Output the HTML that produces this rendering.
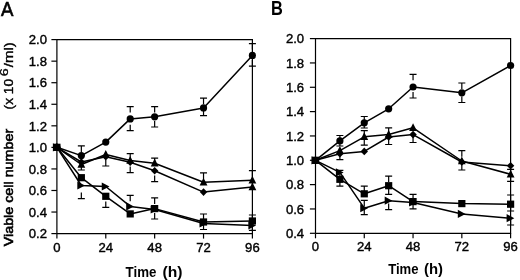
<!DOCTYPE html>
<html><head><meta charset="utf-8"><style>
html,body{margin:0;padding:0;background:#fff;width:520px;height:280px;overflow:hidden}
svg{display:block;will-change:transform}
</style></head><body>
<svg width="520" height="280" viewBox="0 0 520 280">
<path d="M56.9 233.6V39.6H252.4V233.6H56.9" fill="none" stroke="#000" stroke-width="1.2"/>
<path d="M51.4 233.60H56.9" stroke="#000" stroke-width="1.2"/>
<path d="M51.4 212.04H56.9" stroke="#000" stroke-width="1.2"/>
<path d="M51.4 190.49H56.9" stroke="#000" stroke-width="1.2"/>
<path d="M51.4 168.93H56.9" stroke="#000" stroke-width="1.2"/>
<path d="M51.4 147.38H56.9" stroke="#000" stroke-width="1.2"/>
<path d="M51.4 125.82H56.9" stroke="#000" stroke-width="1.2"/>
<path d="M51.4 104.27H56.9" stroke="#000" stroke-width="1.2"/>
<path d="M51.4 82.71H56.9" stroke="#000" stroke-width="1.2"/>
<path d="M51.4 61.16H56.9" stroke="#000" stroke-width="1.2"/>
<path d="M51.4 39.60H56.9" stroke="#000" stroke-width="1.2"/>
<path d="M56.90 233.6V238.6" stroke="#000" stroke-width="1.2"/>
<path d="M105.78 233.6V238.6" stroke="#000" stroke-width="1.2"/>
<path d="M154.65 233.6V238.6" stroke="#000" stroke-width="1.2"/>
<path d="M203.53 233.6V238.6" stroke="#000" stroke-width="1.2"/>
<path d="M252.40 233.6V238.6" stroke="#000" stroke-width="1.2"/>
<path d="M315.5 233.3V38.6H510.6V233.3H315.5" fill="none" stroke="#000" stroke-width="1.2"/>
<path d="M309.9 233.30H315.5" stroke="#000" stroke-width="1.2"/>
<path d="M309.9 208.96H315.5" stroke="#000" stroke-width="1.2"/>
<path d="M309.9 184.62H315.5" stroke="#000" stroke-width="1.2"/>
<path d="M309.9 160.29H315.5" stroke="#000" stroke-width="1.2"/>
<path d="M309.9 135.95H315.5" stroke="#000" stroke-width="1.2"/>
<path d="M309.9 111.61H315.5" stroke="#000" stroke-width="1.2"/>
<path d="M309.9 87.28H315.5" stroke="#000" stroke-width="1.2"/>
<path d="M309.9 62.94H315.5" stroke="#000" stroke-width="1.2"/>
<path d="M309.9 38.60H315.5" stroke="#000" stroke-width="1.2"/>
<path d="M315.50 233.3V238.3" stroke="#000" stroke-width="1.2"/>
<path d="M364.27 233.3V238.3" stroke="#000" stroke-width="1.2"/>
<path d="M413.05 233.3V238.3" stroke="#000" stroke-width="1.2"/>
<path d="M461.83 233.3V238.3" stroke="#000" stroke-width="1.2"/>
<path d="M510.60 233.3V238.3" stroke="#000" stroke-width="1.2"/>
<g font-family="Liberation Sans, sans-serif" fill="#000" stroke="#000" stroke-width="0.4" font-size="13.1" stroke-width="0.6" text-anchor="end">
<text x="47.0" y="238.30">0.2</text>
<text x="47.0" y="216.74">0.4</text>
<text x="47.0" y="195.19">0.6</text>
<text x="47.0" y="173.63">0.8</text>
<text x="47.0" y="152.08">1.0</text>
<text x="47.0" y="130.52">1.2</text>
<text x="47.0" y="108.97">1.4</text>
<text x="47.0" y="87.41">1.6</text>
<text x="47.0" y="65.86">1.8</text>
<text x="47.0" y="44.30">2.0</text>
<text x="304.1" y="238.00">0.4</text>
<text x="304.1" y="213.66">0.6</text>
<text x="304.1" y="189.32">0.8</text>
<text x="304.1" y="164.99">1.0</text>
<text x="304.1" y="140.65">1.2</text>
<text x="304.1" y="116.31">1.4</text>
<text x="304.1" y="91.98">1.6</text>
<text x="304.1" y="67.64">1.8</text>
<text x="304.1" y="43.30">2.0</text>
</g>
<g font-family="Liberation Sans, sans-serif" fill="#000" stroke="#000" stroke-width="0.4" font-size="13.1" stroke-width="0.75" text-anchor="middle">
<text x="56.90" y="252.2">0</text>
<text x="315.50" y="251.2">0</text>
<text x="105.78" y="252.2">24</text>
<text x="364.27" y="251.2">24</text>
<text x="154.65" y="252.2">48</text>
<text x="413.05" y="251.2">48</text>
<text x="203.53" y="252.2">72</text>
<text x="461.83" y="251.2">72</text>
<text x="252.40" y="252.2">96</text>
<text x="510.60" y="251.2">96</text>
</g>
<g font-family="Liberation Sans, sans-serif" fill="#000" stroke="#000" stroke-width="0.4">
<text x="125.6" y="277" font-size="14.2" font-weight="bold" stroke-width="0" textLength="30.8" lengthAdjust="spacingAndGlyphs">Time</text>
<text x="162.6" y="277" font-size="14.2" font-weight="bold" stroke-width="0" textLength="20" lengthAdjust="spacingAndGlyphs">(h)</text>
<text x="388.2" y="273.9" font-size="14.1" font-weight="bold" stroke-width="0" textLength="30.3" lengthAdjust="spacingAndGlyphs">Time</text>
<text x="424.0" y="273.9" font-size="14.1" font-weight="bold" stroke-width="0" textLength="19" lengthAdjust="spacingAndGlyphs">(h)</text>
<text transform="translate(13.0,246.3) rotate(-90)" font-size="12.8" stroke-width="0.6" textLength="117.5" lengthAdjust="spacingAndGlyphs">Viable cell number</text>
<text transform="translate(12.6,109.4) rotate(-90)" font-size="12.8" stroke-width="0.35" textLength="30.4" lengthAdjust="spacingAndGlyphs">(x 10</text>
<text transform="translate(8.3,76.3) rotate(-90)" font-size="11" stroke-width="0.35" textLength="8" lengthAdjust="spacingAndGlyphs">6</text>
<text transform="translate(12.6,67.2) rotate(-90)" font-size="12.8" stroke-width="0.35" textLength="25" lengthAdjust="spacingAndGlyphs">/ml)</text>
</g>
<text transform="translate(1.0,15.5) scale(0.95,1)" font-family="Liberation Sans, sans-serif" font-size="19.6" fill="#000" stroke="#000" stroke-width="0.6">A</text>
<text transform="translate(271.0,15.1) scale(0.84,1)" font-family="Liberation Sans, sans-serif" font-weight="bold" font-size="19.5" fill="#000">B</text>
<polyline points="56.90,147.30 81.34,155.60 105.78,142.10 130.21,118.90 154.65,116.80 203.53,107.90 252.40,55.40" fill="none" stroke="#000" stroke-width="1.5" stroke-linejoin="round"/>
<polyline points="56.90,147.30 81.34,164.50 105.78,154.50 130.21,160.50 154.65,163.20 203.53,182.30 252.40,180.30" fill="none" stroke="#000" stroke-width="1.5" stroke-linejoin="round"/>
<polyline points="56.90,147.30 81.34,162.00 105.78,156.80 130.21,162.30 154.65,170.70 203.53,192.10 252.40,187.00" fill="none" stroke="#000" stroke-width="1.5" stroke-linejoin="round"/>
<polyline points="56.90,147.30 81.34,177.70 105.78,196.30 130.21,213.90 154.65,208.60 203.53,222.00 252.40,221.00" fill="none" stroke="#000" stroke-width="1.5" stroke-linejoin="round"/>
<polyline points="56.90,147.30 81.34,185.50 105.78,186.50 130.21,206.40 154.65,209.50 203.53,223.50 252.40,225.50" fill="none" stroke="#000" stroke-width="1.5" stroke-linejoin="round"/>
<path d="M77.84 145.90H84.84M81.34 145.90V151.90" stroke="#000" stroke-width="1.2" fill="none"/>
<path d="M126.71 106.60H133.71M130.21 106.60V112.60" stroke="#000" stroke-width="1.2" fill="none"/>
<path d="M126.71 130.70H133.71M130.21 130.70V124.70" stroke="#000" stroke-width="1.2" fill="none"/>
<path d="M151.15 106.60H158.15M154.65 106.60V112.60" stroke="#000" stroke-width="1.2" fill="none"/>
<path d="M151.15 127.00H158.15M154.65 127.00V121.00" stroke="#000" stroke-width="1.2" fill="none"/>
<path d="M200.03 98.20H207.03M203.53 98.20V104.20" stroke="#000" stroke-width="1.2" fill="none"/>
<path d="M200.03 115.70H207.03M203.53 115.70V109.70" stroke="#000" stroke-width="1.2" fill="none"/>
<path d="M248.90 43.60H255.90M252.40 43.60V49.60" stroke="#000" stroke-width="1.2" fill="none"/>
<path d="M248.90 66.10H255.90M252.40 66.10V60.10" stroke="#000" stroke-width="1.2" fill="none"/>
<path d="M126.71 153.60H133.71M130.21 153.60V159.60" stroke="#000" stroke-width="1.2" fill="none"/>
<path d="M126.71 172.60H133.71M130.21 172.60V166.60" stroke="#000" stroke-width="1.2" fill="none"/>
<path d="M151.15 158.10H158.15M154.65 158.10V164.10" stroke="#000" stroke-width="1.2" fill="none"/>
<path d="M151.15 181.60H158.15M154.65 181.60V175.60" stroke="#000" stroke-width="1.2" fill="none"/>
<path d="M200.03 172.90H207.03M203.53 172.90V178.90" stroke="#000" stroke-width="1.2" fill="none"/>
<path d="M248.90 170.70H255.90M252.40 170.70V176.70" stroke="#000" stroke-width="1.2" fill="none"/>
<path d="M102.28 166.00H109.28M105.78 166.00V160.00" stroke="#000" stroke-width="1.2" fill="none"/>
<path d="M77.84 170.00H84.84M81.34 170.00V164.00" stroke="#000" stroke-width="1.2" fill="none"/>
<path d="M77.84 198.60H84.84M81.34 198.60V192.60" stroke="#000" stroke-width="1.2" fill="none"/>
<path d="M102.28 207.40H109.28M105.78 207.40V201.40" stroke="#000" stroke-width="1.2" fill="none"/>
<path d="M126.71 195.30H133.71M130.21 195.30V201.30" stroke="#000" stroke-width="1.2" fill="none"/>
<path d="M151.15 197.90H158.15M154.65 197.90V203.90" stroke="#000" stroke-width="1.2" fill="none"/>
<path d="M151.15 219.00H158.15M154.65 219.00V213.00" stroke="#000" stroke-width="1.2" fill="none"/>
<path d="M200.03 214.00H207.03M203.53 214.00V220.00" stroke="#000" stroke-width="1.2" fill="none"/>
<path d="M200.03 229.50H207.03M203.53 229.50V223.50" stroke="#000" stroke-width="1.2" fill="none"/>
<path d="M248.90 215.00H255.90M252.40 215.00V221.00" stroke="#000" stroke-width="1.2" fill="none"/>
<path d="M248.90 230.30H255.90M252.40 230.30V224.30" stroke="#000" stroke-width="1.2" fill="none"/>
<g fill="#000">
<circle cx="56.90" cy="147.30" r="3.6"/>
<circle cx="81.34" cy="155.60" r="3.6"/>
<circle cx="105.78" cy="142.10" r="3.6"/>
<circle cx="130.21" cy="118.90" r="3.6"/>
<circle cx="154.65" cy="116.80" r="3.6"/>
<circle cx="203.53" cy="107.90" r="3.6"/>
<circle cx="252.40" cy="55.40" r="3.6"/>
<path d="M56.90 142.70L60.80 150.50L53.00 150.50Z"/>
<path d="M81.34 159.90L85.24 167.70L77.44 167.70Z"/>
<path d="M105.78 149.90L109.68 157.70L101.88 157.70Z"/>
<path d="M130.21 155.90L134.11 163.70L126.31 163.70Z"/>
<path d="M154.65 158.60L158.55 166.40L150.75 166.40Z"/>
<path d="M203.53 177.70L207.43 185.50L199.62 185.50Z"/>
<path d="M252.40 175.70L256.30 183.50L248.50 183.50Z"/>
<path d="M56.90 143.50L60.60 147.30L56.90 151.10L53.20 147.30Z"/>
<path d="M81.34 158.20L85.04 162.00L81.34 165.80L77.64 162.00Z"/>
<path d="M105.78 153.00L109.48 156.80L105.78 160.60L102.08 156.80Z"/>
<path d="M130.21 158.50L133.91 162.30L130.21 166.10L126.51 162.30Z"/>
<path d="M154.65 166.90L158.35 170.70L154.65 174.50L150.95 170.70Z"/>
<path d="M203.53 188.30L207.22 192.10L203.53 195.90L199.83 192.10Z"/>
<path d="M252.40 182.40L256.30 190.20L248.50 190.20Z"/>
<rect x="53.30" y="143.70" width="7.20" height="7.20"/>
<rect x="77.74" y="174.10" width="7.20" height="7.20"/>
<rect x="102.18" y="192.70" width="7.20" height="7.20"/>
<rect x="126.61" y="210.30" width="7.20" height="7.20"/>
<rect x="151.05" y="205.00" width="7.20" height="7.20"/>
<rect x="199.93" y="218.40" width="7.20" height="7.20"/>
<rect x="248.80" y="217.40" width="7.20" height="7.20"/>
<path d="M60.60 147.30L52.90 143.20L52.90 151.40Z"/>
<path d="M85.04 185.50L77.34 181.40L77.34 189.60Z"/>
<path d="M109.48 186.50L101.78 182.40L101.78 190.60Z"/>
<path d="M133.91 206.40L126.21 202.30L126.21 210.50Z"/>
<path d="M158.35 209.50L150.65 205.40L150.65 213.60Z"/>
<path d="M207.22 223.50L199.53 219.40L199.53 227.60Z"/>
<path d="M256.10 225.50L248.40 221.40L248.40 229.60Z"/>
</g>
<polyline points="315.50,160.30 339.89,140.90 364.27,122.80 388.66,108.80 413.05,87.00 461.83,92.80 510.60,65.50" fill="none" stroke="#000" stroke-width="1.5" stroke-linejoin="round"/>
<polyline points="315.50,160.30 339.89,150.60 364.27,136.80 388.66,134.50 413.05,127.80 461.83,161.00 510.60,174.30" fill="none" stroke="#000" stroke-width="1.5" stroke-linejoin="round"/>
<polyline points="315.50,160.30 339.89,153.80 364.27,151.40 388.66,137.00 413.05,134.60 461.83,162.00 510.60,165.80" fill="none" stroke="#000" stroke-width="1.5" stroke-linejoin="round"/>
<polyline points="315.50,160.30 339.89,179.30 364.27,193.80 388.66,185.70 413.05,201.60 461.83,203.60 510.60,204.20" fill="none" stroke="#000" stroke-width="1.5" stroke-linejoin="round"/>
<polyline points="315.50,160.30 339.89,172.40 364.27,208.20 388.66,200.70 413.05,202.40 461.83,213.90 510.60,218.20" fill="none" stroke="#000" stroke-width="1.5" stroke-linejoin="round"/>
<path d="M336.39 135.50H343.39M339.89 135.50V141.50" stroke="#000" stroke-width="1.2" fill="none"/>
<path d="M336.39 146.00H343.39M339.89 146.00V140.00" stroke="#000" stroke-width="1.2" fill="none"/>
<path d="M360.77 116.50H367.77M364.27 116.50V122.50" stroke="#000" stroke-width="1.2" fill="none"/>
<path d="M409.55 74.30H416.55M413.05 74.30V80.30" stroke="#000" stroke-width="1.2" fill="none"/>
<path d="M409.55 98.00H416.55M413.05 98.00V92.00" stroke="#000" stroke-width="1.2" fill="none"/>
<path d="M458.33 83.00H465.33M461.83 83.00V89.00" stroke="#000" stroke-width="1.2" fill="none"/>
<path d="M458.33 102.50H465.33M461.83 102.50V96.50" stroke="#000" stroke-width="1.2" fill="none"/>
<path d="M336.39 159.60H343.39M339.89 159.60V153.60" stroke="#000" stroke-width="1.2" fill="none"/>
<path d="M360.77 128.00H367.77M364.27 128.00V122.00" stroke="#000" stroke-width="1.2" fill="none"/>
<path d="M360.77 130.60H367.77M364.27 130.60V136.60" stroke="#000" stroke-width="1.2" fill="none"/>
<path d="M360.77 145.20H367.77M364.27 145.20V139.20" stroke="#000" stroke-width="1.2" fill="none"/>
<path d="M385.16 127.80H392.16M388.66 127.80V133.80" stroke="#000" stroke-width="1.2" fill="none"/>
<path d="M385.16 144.50H392.16M388.66 144.50V138.50" stroke="#000" stroke-width="1.2" fill="none"/>
<path d="M409.55 142.50H416.55M413.05 142.50V136.50" stroke="#000" stroke-width="1.2" fill="none"/>
<path d="M458.33 150.70H465.33M461.83 150.70V156.70" stroke="#000" stroke-width="1.2" fill="none"/>
<path d="M458.33 170.00H465.33M461.83 170.00V164.00" stroke="#000" stroke-width="1.2" fill="none"/>
<path d="M507.10 169.30H514.10M510.60 169.30V175.30" stroke="#000" stroke-width="1.2" fill="none"/>
<path d="M507.10 181.40H514.10M510.60 181.40V175.40" stroke="#000" stroke-width="1.2" fill="none"/>
<path d="M336.39 170.30H343.39M339.89 170.30V176.30" stroke="#000" stroke-width="1.2" fill="none"/>
<path d="M336.39 186.10H343.39M339.89 186.10V180.10" stroke="#000" stroke-width="1.2" fill="none"/>
<path d="M360.77 186.10H367.77M364.27 186.10V192.10" stroke="#000" stroke-width="1.2" fill="none"/>
<path d="M385.16 176.10H392.16M388.66 176.10V182.10" stroke="#000" stroke-width="1.2" fill="none"/>
<path d="M385.16 194.30H392.16M388.66 194.30V188.30" stroke="#000" stroke-width="1.2" fill="none"/>
<path d="M409.55 194.30H416.55M413.05 194.30V200.30" stroke="#000" stroke-width="1.2" fill="none"/>
<path d="M409.55 208.80H416.55M413.05 208.80V202.80" stroke="#000" stroke-width="1.2" fill="none"/>
<path d="M507.10 195.00H514.10M510.60 195.00V201.00" stroke="#000" stroke-width="1.2" fill="none"/>
<path d="M507.10 211.00H514.10M510.60 211.00V205.00" stroke="#000" stroke-width="1.2" fill="none"/>
<path d="M360.77 200.30H367.77M364.27 200.30V206.30" stroke="#000" stroke-width="1.2" fill="none"/>
<path d="M360.77 214.60H367.77M364.27 214.60V208.60" stroke="#000" stroke-width="1.2" fill="none"/>
<path d="M385.16 209.60H392.16M388.66 209.60V203.60" stroke="#000" stroke-width="1.2" fill="none"/>
<path d="M507.10 225.00H514.10M510.60 225.00V219.00" stroke="#000" stroke-width="1.2" fill="none"/>
<g fill="#000">
<circle cx="315.50" cy="160.30" r="3.6"/>
<circle cx="339.89" cy="140.90" r="3.6"/>
<circle cx="364.27" cy="122.80" r="3.6"/>
<circle cx="388.66" cy="108.80" r="3.6"/>
<circle cx="413.05" cy="87.00" r="3.6"/>
<circle cx="461.83" cy="92.80" r="3.6"/>
<circle cx="510.60" cy="65.50" r="3.6"/>
<path d="M315.50 155.70L319.40 163.50L311.60 163.50Z"/>
<path d="M339.89 146.00L343.79 153.80L335.99 153.80Z"/>
<path d="M364.27 132.20L368.17 140.00L360.38 140.00Z"/>
<path d="M388.66 129.90L392.56 137.70L384.76 137.70Z"/>
<path d="M413.05 123.20L416.95 131.00L409.15 131.00Z"/>
<path d="M461.83 156.40L465.73 164.20L457.93 164.20Z"/>
<path d="M510.60 169.70L514.50 177.50L506.70 177.50Z"/>
<path d="M315.50 156.50L319.20 160.30L315.50 164.10L311.80 160.30Z"/>
<path d="M339.89 150.00L343.59 153.80L339.89 157.60L336.19 153.80Z"/>
<path d="M364.27 147.60L367.97 151.40L364.27 155.20L360.57 151.40Z"/>
<path d="M388.66 133.20L392.36 137.00L388.66 140.80L384.96 137.00Z"/>
<path d="M413.05 130.80L416.75 134.60L413.05 138.40L409.35 134.60Z"/>
<path d="M461.83 158.20L465.53 162.00L461.83 165.80L458.13 162.00Z"/>
<path d="M510.60 162.00L514.30 165.80L510.60 169.60L506.90 165.80Z"/>
<rect x="311.90" y="156.70" width="7.20" height="7.20"/>
<rect x="336.29" y="175.70" width="7.20" height="7.20"/>
<rect x="360.67" y="190.20" width="7.20" height="7.20"/>
<rect x="385.06" y="182.10" width="7.20" height="7.20"/>
<rect x="409.45" y="198.00" width="7.20" height="7.20"/>
<rect x="458.23" y="200.00" width="7.20" height="7.20"/>
<rect x="507.00" y="200.60" width="7.20" height="7.20"/>
<path d="M319.20 160.30L311.50 156.20L311.50 164.40Z"/>
<path d="M343.59 172.40L335.89 168.30L335.89 176.50Z"/>
<path d="M367.97 208.20L360.27 204.10L360.27 212.30Z"/>
<path d="M392.36 200.70L384.66 196.60L384.66 204.80Z"/>
<path d="M416.75 202.40L409.05 198.30L409.05 206.50Z"/>
<path d="M465.53 213.90L457.83 209.80L457.83 218.00Z"/>
<path d="M514.30 218.20L506.60 214.10L506.60 222.30Z"/>
</g>
</svg>
</body></html>
